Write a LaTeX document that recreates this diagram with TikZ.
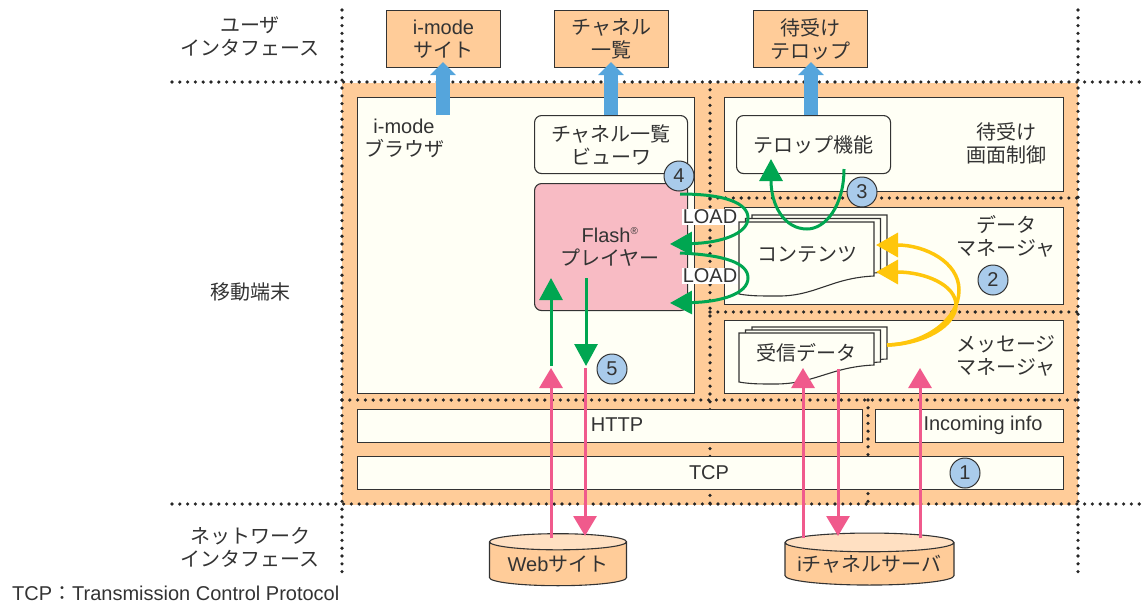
\documentclass[tikz,border=0pt]{standalone}
\usepackage{fontspec}
\usepackage{xcolor}
\usetikzlibrary{arrows.meta}
\usetikzlibrary{shapes.geometric}
\setmainfont{Liberation Sans}
\newfontfamily\jafont{Noto Sans CJK JP}
\newcommand{\ja}[1]{{\jafont #1}}
\definecolor{pageorange}{HTML}{FFCC99}
\definecolor{lightorange}{HTML}{FFE0C2}
\definecolor{cream}{HTML}{FFFFF5}
\definecolor{flashpink}{HTML}{F8BBC4}
\definecolor{linkgreen}{HTML}{00A651}
\definecolor{linkpink}{HTML}{F05A8C}
\definecolor{linkblue}{HTML}{55A5DC}
\definecolor{linkyellow}{HTML}{FFC60B}
\definecolor{stepblue}{HTML}{A9CBEB}
\definecolor{inkgrey}{HTML}{333333}

\begin{document}
\begin{tikzpicture}[x=1pt, y=-1pt, font=\fontsize{20}{23}\selectfont, text=inkgrey]
\tikzstyle{layer} = [draw=inkgrey, fill=cream, line width=1.1pt, inner sep=0pt, anchor=north west]
\tikzstyle{screen} = [layer, fill=pageorange, align=center]
\tikzstyle{func} = [layer, rounded corners=7pt, align=center]
\tikzstyle{label} = [align=center, inner sep=0pt]
\tikzstyle{stepmark} = [circle, draw=inkgrey, fill=stepblue, line width=1pt, minimum size=30pt, inner sep=0pt]
\tikzstyle{server} = [cylinder, shape border rotate=90, draw=inkgrey, line width=1.1pt, cylinder uses custom fill, cylinder body fill=pageorange, cylinder end fill=lightorange, inner sep=0pt, minimum height=52pt]
\tikzstyle{dotline} = [black!85, line width=3.6pt, line cap=round, dash pattern=on 0pt off 7.8pt]
\tikzstyle{docpage} = [draw=inkgrey, fill=cream, line width=1.1pt]
\tikzstyle{toscreen} = [linkblue, line width=14pt, -{Triangle[width=25pt, length=13pt]}]
\tikzstyle{netlink} = [linkpink, line width=3pt, -{Triangle[width=23pt, length=20pt]}]
\tikzstyle{loadlink} = [linkgreen, line width=3pt, -{Triangle[width=23pt, length=22pt]}]
\tikzstyle{storelink} = [linkyellow, line width=3.5pt, -{Triangle[width=24pt, length=22pt]}]

\useasboundingbox (0,0) rectangle (1146,603);

% terminal background and dotted borders
\fill[pageorange] (342,83) rectangle (1078,505);
\draw[dotline] (172,82) -- (1146,82);
\draw[dotline] (172,504) -- (1146,504);
\draw[dotline] (342,400) -- (1078,400);
\draw[dotline] (710,198) -- (1078,198);
\draw[dotline] (710,312) -- (1078,312);
\draw[dotline] (342,10) -- (342,576);
\draw[dotline] (1078,10) -- (1078,576);
\draw[dotline] (710,82) -- (710,504);
\draw[dotline] (868,400) -- (868,504);

% screens at the top
\node[screen, minimum width=114pt, minimum height=57pt] (imode) at (386,10) {i-mode\\\ja{サイト}};
\node[screen, minimum width=114pt, minimum height=57pt] (chlist) at (554,10) {\ja{チャネル}\\\ja{一覧}};
\node[screen, minimum width=114pt, minimum height=57pt] (idle) at (753,10) {\ja{待受け}\\\ja{テロップ}};

% blocks of the terminal
\node[layer, minimum width=337pt, minimum height=296pt] (browser) at (357,97) {};
\node[layer, minimum width=339pt, minimum height=94pt] (screenctl) at (724,97) {};
\node[layer, minimum width=339pt, minimum height=97pt] (datamgr) at (724,207) {};
\node[layer, minimum width=339pt, minimum height=73pt] (msgmgr) at (724,320) {};
\node[layer, minimum width=505pt, minimum height=33pt] (http) at (357,409) {};
\node[layer, minimum width=188pt, minimum height=33pt] (incoming) at (875,409) {};
\node[layer, minimum width=706pt, minimum height=33pt] (tcp) at (357,456) {};
\node[label] (httptxt) at (617,425) {HTTP};
\node[label] (incomingtxt) at (983,425) {Incoming info};
\node[label] (tcptxt) at (709,473) {TCP};

\node[label] (browsertxt) at (404,138) {i-mode\\\ja{ブラウザ}};
\node[label] (idletxt) at (1006,143) {\ja{待受け}\\\ja{画面制御}};
\node[label] (datatxt) at (1006,236) {\ja{データ}\\\ja{マネージャ}};
\node[label] (msgtxt) at (1006,356) {\ja{メッセージ}\\\ja{マネージャ}};

\node[func, minimum width=153pt, minimum height=58pt] (viewer) at (534,115) {\ja{チャネル一覧}\\\ja{ビューワ}};
\node[func, fill=flashpink, minimum width=153pt, minimum height=127pt] (flash) at (534,183) {};
\node[label] (flashtxt) at (610,247) {Flash\textsuperscript{\fontsize{10}{10}\selectfont\textregistered}\\\ja{プレイヤー}};
\node[func, minimum width=154pt, minimum height=58pt] (telop) at (736,115) {\ja{テロップ機能}};

% stacked documents
\foreach \dx/\dy in {13/-7, 6.5/-3.5, 0/0}
	\draw[docpage, shift={(\dx,\dy)}] (739,222) -- (874,222) -- (874,276) .. controls (830,278) and (815,297) .. (775,296) .. controls (760,296) and (750,296) .. (739,294) -- cycle;
\foreach \dx/\dy in {13/-6, 6.5/-3, 0/0}
	\draw[docpage, shift={(\dx,\dy)}] (739,333) -- (874,333) -- (874,365) .. controls (830,367) and (815,384) .. (775,384) .. controls (760,384) and (750,384) .. (739,382) -- cycle;
\node[label] (contents) at (807,254) {\ja{コンテンツ}};
\node[label] (recv) at (806,353) {\ja{受信データ}};

% servers
\node[server, aspect=0.16, minimum width=137pt] (web) at (558,564) {\raisebox{-2pt}{Web\ja{サイト}}};
\node[server, aspect=0.13, minimum width=169pt] (ichannel) at (869.5,564) {\raisebox{-2pt}{i\ja{チャネルサーバ}}};

% named ends of the connectors
\coordinate (blue1a) at (443,115);
\coordinate (blue1b) at (443,62);
\coordinate (blue2a) at (611,115);
\coordinate (blue2b) at (611,62);
\coordinate (blue3a) at (811,115);
\coordinate (blue3b) at (811,62);
\coordinate (webup) at (551,538);
\coordinate (webupend) at (551,368);
\coordinate (webdown) at (585,368);
\coordinate (webdownend) at (585,536);
\coordinate (chup) at (803,538);
\coordinate (chupend) at (803,368);
\coordinate (chdown) at (838,369);
\coordinate (chdownend) at (838,536);
\coordinate (infoup) at (920,538);
\coordinate (infoupend) at (920,368);
\coordinate (flashup) at (551,366);
\coordinate (flashupend) at (551,278);
\coordinate (flashdown) at (586,278);
\coordinate (flashdownend) at (586,366);
\coordinate (load1a) at (680,194);
\coordinate (load1b) at (670,244);
\coordinate (load2a) at (680,253);
\coordinate (load2b) at (670,303);
\coordinate (telopa) at (844,169);
\coordinate (telopb) at (771,159);
\coordinate (store) at (887,345);
\coordinate (store1) at (876,245);
\coordinate (store2) at (876,272);

\path (blue1a) edge[toscreen] (blue1b)
	(blue2a) edge[toscreen] (blue2b)
	(blue3a) edge[toscreen] (blue3b);

\path (webup) edge[netlink] (webupend)
	(webdown) edge[netlink] (webdownend)
	(chup) edge[netlink] (chupend)
	(chdown) edge[netlink] (chdownend)
	(infoup) edge[netlink] (infoupend);

\path (flashup) edge[loadlink] (flashupend)
	(flashdown) edge[loadlink] (flashdownend);
\draw[loadlink] (load1a) .. controls (725,194) and (748,203) .. (748,218) .. controls (748,234) and (720,243) .. (load1b);
\draw[loadlink] (load2a) .. controls (725,255) and (748,263) .. (748,278) .. controls (748,294) and (720,302) .. (load2b);
\draw[loadlink] (telopa) .. controls (844,205) and (826,229) .. (807,229) .. controls (784,229) and (771,205) .. (telopb);

\draw[storelink] (store) .. controls (925,344) and (959,320) .. (959,290) .. controls (959,262) and (925,245) .. (store1);
\draw[storelink] (store) .. controls (925,344) and (956,325) .. (956,305) .. controls (956,285) and (925,272) .. (store2);

\node[fill=white, inner sep=1pt] (load1) at (710,217) {LOAD};
\node[fill=white, inner sep=1pt] (load2) at (710,276) {LOAD};

% numbered marks
\node[stepmark] (mark1) at (965,473) {1};
\node[stepmark] (mark2) at (993,280) {2};
\node[stepmark] (mark3) at (862,192) {3};
\node[stepmark] (mark4) at (679,176) {4};
\node[stepmark] (mark5) at (612,369) {5};

% texts outside
\node[label] (usertxt) at (250,37) {\ja{ユーザ}\\\ja{インタフェース}};
\node[label] (termtxt) at (250,292) {\ja{移動端末}};
\node[label] (nettxt) at (250,547) {\ja{ネットワーク}\\\ja{インタフェース}};
\node[label, anchor=west] (notetxt) at (12,593) {TCP\ja{：}Transmission Control Protocol};

\end{tikzpicture}
\end{document}
